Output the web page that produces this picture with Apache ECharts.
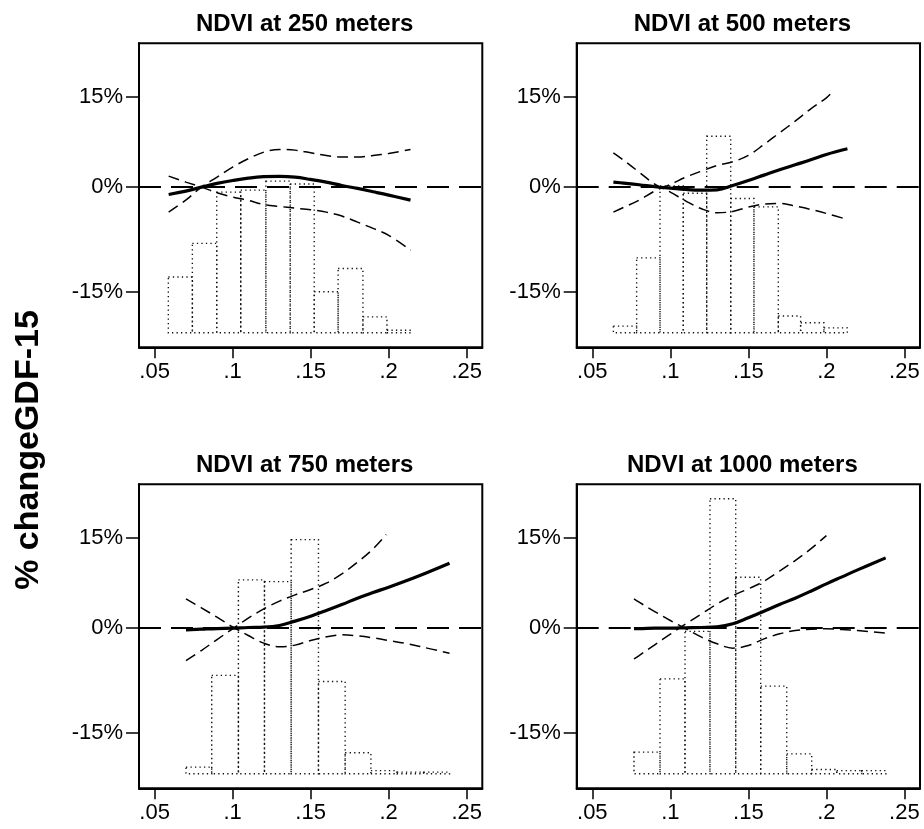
<!DOCTYPE html>
<html>
<head>
<meta charset="utf-8">
<script src="https://cdn.jsdelivr.net/npm/echarts@6/dist/echarts.min.js"></script>
<style>
html,body{margin:0;padding:0;background:#fff}
#mychart{width:924px;height:829px}
</style>
</head>
<body>
<div id="mychart"></div>
<script>
// tick labels
var X_TICKS = [0.05, 0.1, 0.15, 0.2, 0.25];
var X_TICK_LABELS = ['.05', '.1', '.15', '.2', '.25'];
var Y_TICKS = [-15, 0, 15];              // % change
var TITLES = ['NDVI at 250 meters', 'NDVI at 500 meters', 'NDVI at 750 meters', 'NDVI at 1000 meters'];

// NDVI 250 m : estimate + both confidence bounds (% change), histogram of NDVI
var P250_X   = [0.059, 0.07, 0.08, 0.09, 0.10, 0.11, 0.12, 0.13, 0.14, 0.15, 0.16, 0.17, 0.18, 0.19, 0.20, 0.214];
var P250_EST = [-1.13, -0.62, 0, 0.58, 1.04, 1.41, 1.63, 1.67, 1.56, 1.2, 0.78, 0.26, -0.2, -0.71, -1.23, -2.0];
var P250_LO  = [1.73, 0.78, 0, -0.87, -1.53, -2.04, -2.65, -2.95, -3.2, -3.45, -3.8, -4.39, -5.28, -6.2, -7.2, -9.3];
var P250_HI_X = P250_X;
var P250_HI  = [-3.8, -1.99, 0, 1.57, 3.16, 4.5, 5.58, 6.02, 5.91, 5.47, 5.04, 4.77, 4.77, 5.04, 5.36, 6.02];
var H250_EDGES = [0.0588, 0.0742, 0.0898, 0.1052, 0.1213, 0.1369, 0.1523, 0.1676, 0.1835, 0.1989, 0.2143];
var H250 = [19.3, 30.9, 48.6, 49.3, 52.4, 51.4, 14.2, 22.2, 5.5, 0.9];

// NDVI 500 m
var P500_X   = [0.0635, 0.07, 0.08, 0.09, 0.10, 0.11, 0.12, 0.13, 0.14, 0.15, 0.16, 0.17, 0.18, 0.19, 0.20, 0.2135];
var P500_EST = [0.78, 0.63, 0.37, 0.06, -0.15, -0.36, -0.46, -0.41, 0.26, 1.04, 1.88, 2.73, 3.53, 4.33, 5.2, 6.13];
var P500_LO  = [5.47, 4.28, 2.35, 0.45, -0.77, -2.14, -3.3, -3.9, -3.7, -3.05, -2.6, -2.5, -2.9, -3.4, -4.0, -4.9];
var P500_HI_X = [0.0635, 0.07, 0.08, 0.09, 0.10, 0.11, 0.12, 0.13, 0.14, 0.15, 0.16, 0.17, 0.18, 0.19, 0.20, 0.2034];
var P500_HI  = [-3.8, -3.1, -1.99, -0.6, 0.42, 1.57, 2.52, 3.42, 4.01, 5.04, 6.84, 8.8, 10.78, 12.92, 14.86, 15.76];
var H500_EDGES = [0.0635, 0.0784, 0.0934, 0.1083, 0.1233, 0.1387, 0.1536, 0.1692, 0.1835, 0.1984, 0.2134];
var H500 = [2.3, 25.9, 50.7, 48.2, 67.9, 46.4, 43.5, 5.8, 3.5, 1.7];

// NDVI 750 m
var P750_X   = [0.0701, 0.08, 0.09, 0.10, 0.11, 0.12, 0.13, 0.14, 0.15, 0.16, 0.17, 0.18, 0.19, 0.20, 0.21, 0.22, 0.239];
var P750_EST = [-0.26, -0.16, -0.06, 0, 0.1, 0.15, 0.41, 1.09, 1.87, 2.77, 3.73, 4.76, 5.68, 6.56, 7.5, 8.5, 10.59];
var P750_LO  = [4.65, 3.2, 1.71, 0.2, -1.13, -2.3, -2.86, -2.6, -1.9, -1.34, -1.03, -1.19, -1.49, -1.9, -2.3, -2.81, -3.81];
var P750_HI_X = [0.0701, 0.08, 0.09, 0.10, 0.11, 0.12, 0.13, 0.14, 0.15, 0.16, 0.17, 0.18, 0.19, 0.1984];
var P750_HI  = [-4.9, -3.41, -1.75, -0.11, 1.56, 3.04, 4.27, 5.3, 6.17, 7.22, 8.78, 10.77, 13.08, 15.62];
var H750_EDGES = [0.0701, 0.0866, 0.1037, 0.1204, 0.1375, 0.1550, 0.1721, 0.1886, 0.2053, 0.2224, 0.2390];
var H750 = [2.3, 34.0, 67.0, 66.4, 80.9, 31.9, 7.3, 1.1, 0.6, 0.6];

// NDVI 1000 m
var P1000_X   = [0.0767, 0.08, 0.09, 0.10, 0.11, 0.12, 0.13, 0.14, 0.15, 0.16, 0.17, 0.18, 0.19, 0.20, 0.21, 0.22, 0.238];
var P1000_EST = [-0.06, -0.06, 0, 0, 0.05, 0.1, 0.2, 0.67, 1.61, 2.66, 3.73, 4.76, 5.9, 7.11, 8.28, 9.46, 11.52];
var P1000_LO  = [4.65, 4.11, 2.61, 1.19, -0.11, -1.39, -2.4, -3.06, -2.66, -1.65, -0.88, -0.37, -0.16, -0.11, -0.21, -0.37, -0.78];
var P1000_HI_X = [0.0767, 0.08, 0.09, 0.10, 0.11, 0.12, 0.13, 0.14, 0.15, 0.16, 0.17, 0.18, 0.19, 0.20];
var P1000_HI  = [-4.65, -4.16, -2.56, -0.93, 0.67, 2.24, 3.84, 5.19, 6.28, 7.55, 9.24, 11.06, 13.08, 15.44];
var H1000_EDGES = [0.0767, 0.0934, 0.1094, 0.1254, 0.1419, 0.1579, 0.1746, 0.1906, 0.2066, 0.2226, 0.2382];
var H1000 = [7.5, 32.8, 49.2, 95.0, 67.9, 30.3, 6.9, 1.5, 1.1, 1.1];

var FONT = 'Arial, "Liberation Sans", Helvetica, sans-serif';

// y axis is drawn on a log-ratio scale: log(1 + pct/100)
function toLog(p) { return Math.log(1 + p / 100); }
function pairs(xs, ys) {
    return xs.map(function (x, i) { return [x, toLog(ys[i])]; });
}
function bins(edges, h) {
    return h.map(function (v, i) { return [edges[i], edges[i + 1], v]; });
}

var panels = [
    {x: P250_X, est: P250_EST, lo: P250_LO, hiX: P250_HI_X, hi: P250_HI, edges: H250_EDGES, hist: H250},
    {x: P500_X, est: P500_EST, lo: P500_LO, hiX: P500_HI_X, hi: P500_HI, edges: H500_EDGES, hist: H500},
    {x: P750_X, est: P750_EST, lo: P750_LO, hiX: P750_HI_X, hi: P750_HI, edges: H750_EDGES, hist: H750},
    {x: P1000_X, est: P1000_EST, lo: P1000_LO, hiX: P1000_HI_X, hi: P1000_HI, edges: H1000_EDGES, hist: H1000}
];

var boxes = [[139, 43.3], [576.7, 43.3], [139, 484.3], [576.7, 484.3]];
var boxW = 343.3, boxH = 304;

var myChart = echarts.init(document.getElementById('mychart'));
var option = null;
var grids = [], xAxes = [], yAxes = [], series = [], titles = [];

function xLabel(v) {
    for (var i = 0; i < X_TICKS.length; i++) {
        if (Math.abs(X_TICKS[i] - v) < 1e-9) return X_TICK_LABELS[i];
    }
    return '';
}
function yLabel(v) {
    return Math.round((Math.exp(v) - 1) * 100) + '%';
}

panels.forEach(function (p, k) {
    var b = boxes[k];
    grids.push({
        left: b[0], top: b[1], width: boxW, height: boxH,
        show: true, borderColor: '#000', borderWidth: 2, backgroundColor: 'rgba(0,0,0,0)'
    });
    titles.push({
        text: TITLES[k],
        left: b[0] + boxW / 2 - 6,
        top: b[1] - 31,
        textAlign: 'center',
        padding: 0,
        textStyle: {fontFamily: FONT, fontWeight: 'bold', fontSize: 24, color: '#000'}
    });
    xAxes.push({
        type: 'value', gridIndex: k, min: 0.04, max: 0.26,
        axisLine: {show: true, onZero: false, lineStyle: {color: '#000', width: 2}},
        axisTick: {show: true, length: 11, customValues: X_TICKS, lineStyle: {color: '#000', width: 1.5}},
        axisLabel: {customValues: X_TICKS, formatter: xLabel, fontSize: 22, color: '#000', margin: 14, fontFamily: FONT},
        splitLine: {show: false}
    });
    var yTickVals = Y_TICKS.map(toLog);
    yAxes.push({
        type: 'value', gridIndex: k, min: Math.log(0.78), max: Math.log(1.25),
        axisLine: {show: true, onZero: false, lineStyle: {color: '#000', width: 2}},
        axisTick: {show: true, length: 13, customValues: yTickVals, lineStyle: {color: '#000', width: 1.5}},
        axisLabel: {customValues: yTickVals, formatter: yLabel, fontSize: 22, color: '#000', margin: 16, fontFamily: FONT},
        splitLine: {show: false}
    });
    // hidden axis for the NDVI histogram
    yAxes.push({type: 'value', gridIndex: k, min: -5, max: 100, show: false});

    series.push({
        type: 'custom',
        xAxisIndex: k, yAxisIndex: 2 * k + 1,
        silent: true, z: 1,
        data: bins(p.edges, p.hist),
        encode: {x: [0, 1], y: 2},
        renderItem: function (params, api) {
            var p0 = api.coord([api.value(0), 0]);
            var p1 = api.coord([api.value(1), api.value(2)]);
            return {
                type: 'rect',
                shape: {x: p0[0], y: p1[1], width: p1[0] - p0[0], height: p0[1] - p1[1]},
                style: {fill: null, stroke: '#111', lineWidth: 1.4, lineDash: [1.3, 3.2]}
            };
        }
    });
    series.push({
        type: 'line', xAxisIndex: k, yAxisIndex: 2 * k, z: 3,
        data: pairs(p.x, p.lo), symbol: 'none', smooth: 0.35, silent: true,
        lineStyle: {color: '#000', width: 1.5, type: [11, 6]}
    });
    series.push({
        type: 'line', xAxisIndex: k, yAxisIndex: 2 * k, z: 3,
        data: pairs(p.hiX, p.hi), symbol: 'none', smooth: 0.35, silent: true,
        lineStyle: {color: '#000', width: 1.5, type: [11, 6]}
    });
    series.push({
        type: 'line', xAxisIndex: k, yAxisIndex: 2 * k, z: 4,
        data: pairs(p.x, p.est), symbol: 'none', smooth: 0.4, silent: true,
        lineStyle: {color: '#000', width: 3.2},
        markLine: {
            silent: true, symbol: ['none', 'none'], animation: false,
            label: {show: false},
            lineStyle: {color: '#000', width: 2, type: [22, 10]},
            data: [{yAxis: 0}]
        }
    });
});

option = {
    animation: false,
    backgroundColor: '#fff',
    title: titles,
    grid: grids,
    xAxis: xAxes,
    yAxis: yAxes,
    series: series,
    graphic: [{
        type: 'text',
        x: 29, y: 450,
        rotation: Math.PI / 2,
        style: {
            text: '% changeGDF-15',
            font: 'bold 34px ' + FONT,
            fill: '#000',
            align: 'center',
            verticalAlign: 'middle'
        }
    }]
};

if (option && typeof option === "object") {
    myChart.setOption(option, true);
}
</script>
</body>
</html>
